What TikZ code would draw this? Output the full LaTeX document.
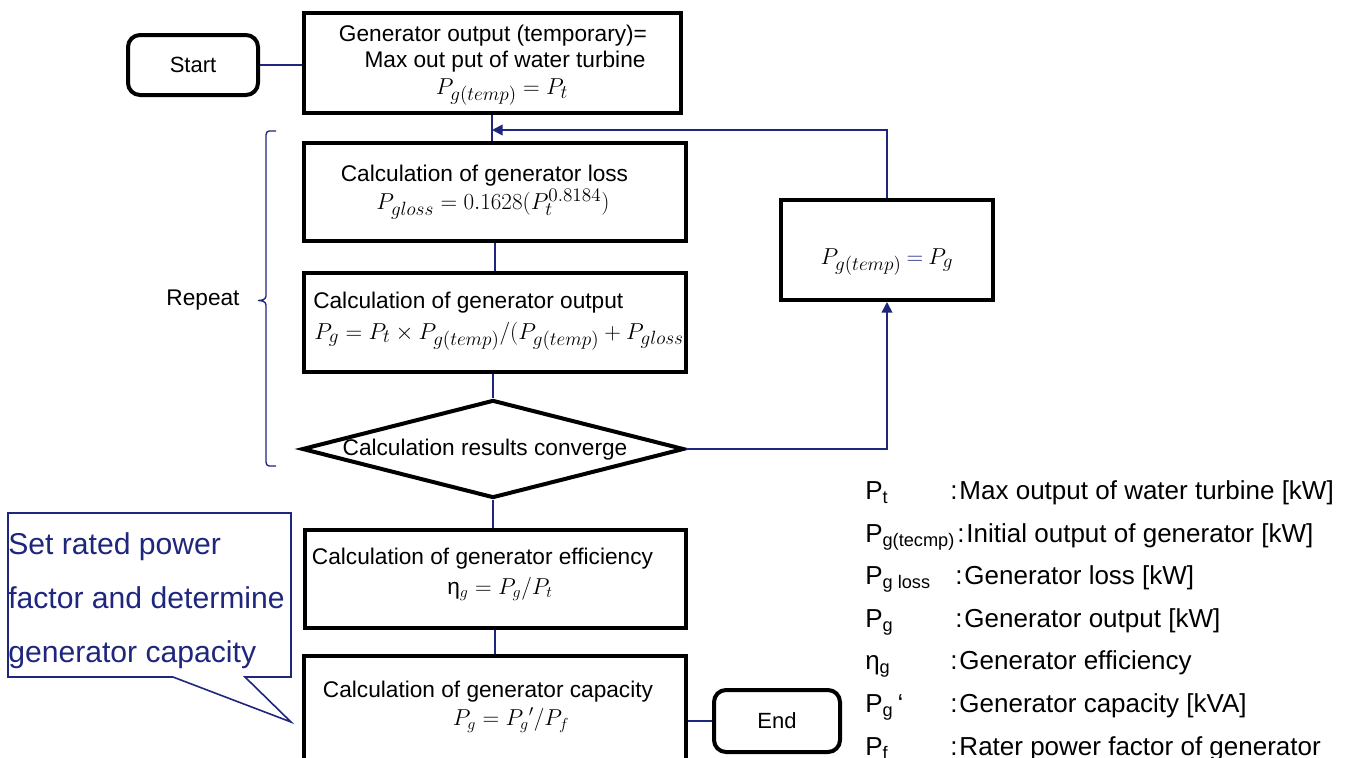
\documentclass[tikz,border=0pt]{standalone}
\usepackage{fontspec}
\setmainfont{Liberation Sans}
\usetikzlibrary{arrows.meta,shapes.geometric}
\definecolor{navy}{RGB}{31,38,125}
\DeclareMathSizes{18.5}{18.5}{14}{11}
\DeclareMathSizes{17}{17}{12.5}{10}
\begin{document}
\begin{tikzpicture}[x=0.75pt,y=-0.75pt,
  box/.style={draw=black,line width=3pt,rectangle,inner sep=0pt},
  term/.style={draw=black,line width=3pt,rectangle,rounded corners=9pt,inner sep=0pt,font=\fontsize{16.5}{18}\selectfont},
  conn/.style={draw=navy,line width=1.3pt},
  arr/.style={conn,-{Triangle[length=8pt,width=8pt]}},
  txt/.style={font=\fontsize{17}{20}\selectfont,inner sep=0pt},
  mtxt/.style={font=\fontsize{18.5}{21}\selectfont,inner sep=0pt},
  leg/.style={font=\fontsize{19.5}{22}\selectfont,inner sep=0pt,anchor=base west},
  calltxt/.style={font=\fontsize{22.6}{26}\selectfont,inner sep=0pt,anchor=base west,text=navy},
]
\useasboundingbox (0,0) rectangle (1358,757);
\clip (0,0) rectangle (1358,757);
\fill[white] (0,0) rectangle (1358,757);

% terminals
\node[term,minimum width=97.5pt,minimum height=45pt] (start) at (193,65) {Start};
\node[term,minimum width=94.5pt,minimum height=46.5pt] (end) at (777,721) {End};

% box 1
\node[box,minimum width=282.75pt,minimum height=75pt] (b1) at (492,63) {};
\node[txt] (b1t1) at (493,36) {Generator output (temporary)=};
\node[txt] (b1t2) at (505,62) {Max out put of water turbine};
\node[mtxt] (b1t3) at (502,92) {$P_{g(temp)} = P_t$};

% box 2
\node[box,minimum width=286.5pt,minimum height=73.5pt] (b2) at (495,192) {};
\node[txt] (b2t1) at (484.5,176) {Calculation of generator loss};
\node[mtxt] (b2t2) at (493,204) {$P_{gloss} = 0.1628(P_t^{0.8184})$};

% box 3
\node[box,minimum width=286.5pt,minimum height=74.25pt] (b3) at (495,322.5) {};
\node[txt,anchor=west] (b3t1) at (313,303) {Calculation of generator output};
\begin{scope}
\clip (306,275) rectangle (684,370);
\node[mtxt,anchor=west] (b3t2) at (314,336) {$P_g = P_t \times P_{g(temp)}/(P_{g(temp)} + P_{gloss})$};
\end{scope}

% decision
\node[draw=black,line width=3pt,diamond,inner sep=0pt,minimum width=286.5pt,minimum height=73.5pt] (dia) at (493,449) {};
\node[txt] (diat) at (485,450) {Calculation results converge};

% box 4
\node[box,minimum width=285.75pt,minimum height=73.5pt] (b4) at (495,579) {};
\node[txt] (b4t1) at (482.5,559) {Calculation of generator efficiency};
\node[txt] (b4t2) at (500,589) {η$_g = P_g/P_t$};

% box 5
\node[box,minimum width=286.5pt,minimum height=90pt] (b5) at (495,716) {};
\node[txt] (b5t1) at (488,692) {Calculation of generator capacity};
\node[txt] (b5t2) at (511,720) {$P_g = {P_g}'/P_f$};

% right box
\node[box,minimum width=159pt,minimum height=75pt] (br) at (887,250) {};
\node[mtxt] (brt) at (887,262) {$P_{g(temp)} \mathbin{\textcolor{navy}{=}} P_g$};

% connectors
\draw[conn] (start.east) -- (start.east -| b1.west);
\draw[conn] (b1.south) -- (b1.south |- b2.north);
\draw[conn] (b2.south) -- (b2.south |- b3.north);
\draw[conn] (dia.north |- b3.south) -- (dia.north);
\draw[conn] (dia.south) -- (dia.south |- b4.north);
\draw[conn] (b4.south) -- (b4.south |- b5.north);
\draw[conn] (end.west -| b5.east) -- (end.west);
\coordinate (loopin) at (492,130);
\draw[arr] (dia.east) -| (br.south);
\draw[arr] (br.north) |- (loopin);

% repeat bracket
\draw[navy,line width=1pt] (276,131) -- (269,131) to[out=180,in=90] (266,135) -- (266,296) to[out=270,in=0] (258,300.5) to[out=0,in=90] (266,305) -- (266,462) to[out=270,in=180] (269,466) -- (276,466);
\node[font=\fontsize{17}{20}\selectfont,inner sep=0pt] (rep) at (203,300) {Repeat};

% callout
\draw[navy,line width=1.2pt] (8,513) -- (291,513) -- (291,677) -- (245,677) -- (291,722) -- (173,677) -- (8,677) -- cycle;
\node[calltxt] (c1) at (8,554) {Set rated power};
\node[calltxt] (c2) at (8,608) {factor and determine};
\node[calltxt] (c3) at (8,662) {generator capacity};

% legend
\node[leg] (l1s) at (865,499) {P\textsubscript{t}};
\node[leg] (l1t) at (950,499) {:\kern1.5pt Max output of water turbine [kW]};
\node[leg] (l2s) at (865,542) {P\textsubscript{g(tecmp)}};
\node[leg] (l2t) at (957,542) {:\kern1.5pt Initial output of generator [kW]};
\node[leg] (l3s) at (865,584) {P\textsubscript{g loss}};
\node[leg] (l3t) at (955,584) {:\kern1.5pt Generator loss [kW]};
\node[leg] (l4s) at (865,627) {P\textsubscript{g}};
\node[leg] (l4t) at (955,627) {:\kern1.5pt Generator output [kW]};
\node[leg] (l5s) at (865,669) {η\textsubscript{g}};
\node[leg] (l5t) at (950,669) {:\kern1.5pt Generator efficiency};
\node[leg] (l6s) at (865,712) {P\textsubscript{g}\,‘};
\node[leg] (l6t) at (950,712) {:\kern1.5pt Generator capacity [kVA]};
\node[leg] (l7s) at (865,755) {P\textsubscript{f}};
\node[leg] (l7t) at (950,755) {:\kern1.5pt Rater power factor of generator};
\end{tikzpicture}
\end{document}
